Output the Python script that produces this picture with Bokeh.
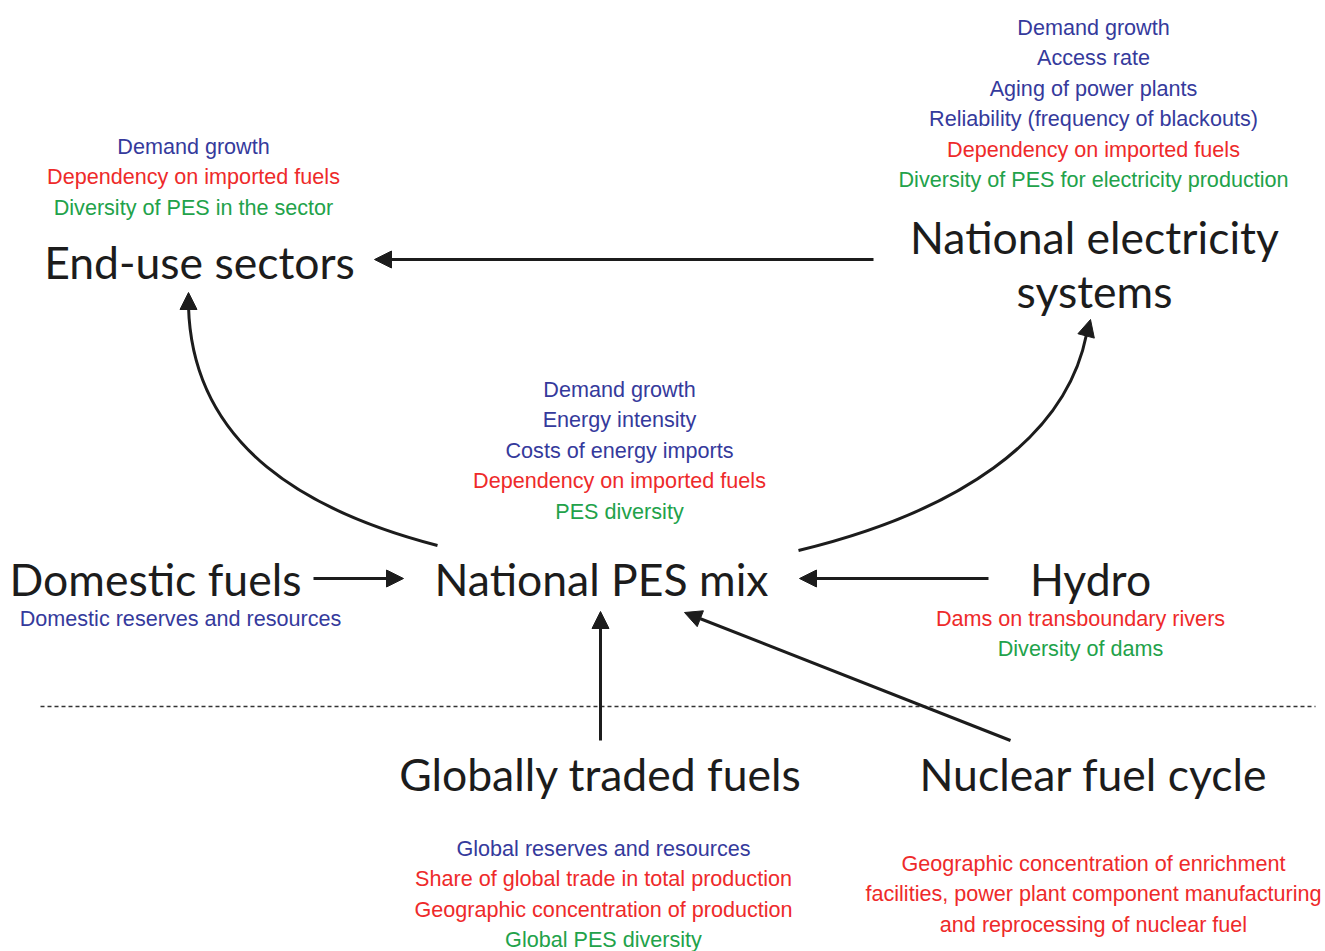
from bokeh.plotting import figure
from bokeh.models import Range1d, Arrow, NormalHead, ColumnDataSource
from bokeh.core.properties import value
from bokeh.embed import file_html
from bokeh.resources import INLINE

BLUE = "#353a9c"
RED = "#ee2a2a"
GREEN = "#22a24a"
DARK = "#1c1c1c"

# ---- node titles ----
titles = ["End-use sectors", "National electricity", "systems", "National PES mix",
          "Domestic fuels", "Hydro", "Globally traded fuels", "Nuclear fuel cycle"]
title_x = [199, 1094, 1094, 601, 155, 1090, 600, 1093]
title_y = [261, 236, 290, 578, 578, 578, 773, 773]

# ---- indicator blocks ----
enduse_lines = ["Demand growth", "Dependency on imported fuels", "Diversity of PES in the sector"]
enduse_colors = [BLUE, RED, GREEN]

elec_lines = ["Demand growth", "Access rate", "Aging of power plants",
              "Reliability (frequency of blackouts)", "Dependency on imported fuels",
              "Diversity of PES for electricity production"]
elec_colors = [BLUE, BLUE, BLUE, BLUE, RED, GREEN]

pes_lines = ["Demand growth", "Energy intensity", "Costs of energy imports",
             "Dependency on imported fuels", "PES diversity"]
pes_colors = [BLUE, BLUE, BLUE, RED, GREEN]

domestic_lines = ["Domestic reserves and resources"]
domestic_colors = [BLUE]

hydro_lines = ["Dams on transboundary rivers", "Diversity of dams"]
hydro_colors = [RED, GREEN]

global_lines = ["Global reserves and resources", "Share of global trade in total production",
                "Geographic concentration of production", "Global PES diversity"]
global_colors = [BLUE, RED, RED, GREEN]

nuclear_lines = ["Geographic concentration of enrichment",
                 "facilities, power plant component manufacturing",
                 "and reprocessing of nuclear fuel"]
nuclear_colors = [RED, RED, RED]

# block anchors: (center x, first line y)
blocks = [
    (enduse_lines, enduse_colors, 193, 146),
    (elec_lines, elec_colors, 1093, 27),
    (pes_lines, pes_colors, 619, 389),
    (domestic_lines, domestic_colors, 180, 618),
    (hydro_lines, hydro_colors, 1080, 618),
    (global_lines, global_colors, 603, 848),
    (nuclear_lines, nuclear_colors, 1093, 863),
]
LINE_STEP = 30.4

# ---- straight arrows (start -> end) ----
arrows_x0 = [873, 313, 988, 600, 1010]
arrows_y0 = [259, 578, 578, 740, 740]
arrows_x1 = [374, 403, 799, 600, 684]
arrows_y1 = [259, 578, 578, 611, 612]

# ---- curved arrows (cubic bezier) ----
curve_x0 = [437, 798]
curve_y0 = [545, 550]
curve_cx0 = [310, 955]
curve_cy0 = [512, 512]
curve_cx1 = [192, 1065]
curve_cy1 = [448, 440]
curve_x1 = [188, 1086]
curve_y1 = [306, 334]
tip_x = [188, 1090]
tip_y = [292, 319]

W, H = 1325, 951
p = figure(width=W, height=H, x_range=Range1d(0, W), y_range=Range1d(H, 0),
           toolbar_location=None, output_backend="svg", min_border=0,
           x_axis_type=None, y_axis_type=None)
p.grid.visible = False
p.outline_line_color = None
p.background_fill_color = "white"
p.border_fill_color = "white"

# dotted separator
p.line(x=[40, 1315], y=[706, 706], line_color="#333333", line_width=1.6, line_dash="4 3")

# straight arrows
for xs, ys, xe, ye in zip(arrows_x0, arrows_y0, arrows_x1, arrows_y1):
    p.add_layout(Arrow(end=NormalHead(size=17, fill_color=DARK, line_color=DARK),
                       x_start=xs, y_start=ys, x_end=xe, y_end=ye,
                       line_color=DARK, line_width=3))

# curves
p.bezier(x0=curve_x0, y0=curve_y0, x1=curve_x1, y1=curve_y1,
         cx0=curve_cx0, cy0=curve_cy0, cx1=curve_cx1, cy1=curve_cy1,
         line_color=DARK, line_width=3)
for xs, ys, xe, ye in zip(curve_x1, curve_y1, tip_x, tip_y):
    p.add_layout(Arrow(end=NormalHead(size=17, fill_color=DARK, line_color=DARK),
                       x_start=xs, y_start=ys, x_end=xe, y_end=ye,
                       line_color=DARK, line_width=3))

# titles
p.text(x=title_x, y=title_y, text=titles, text_font=value("Lato"), text_font_size="44.5px",
       text_color=DARK, text_align="center", text_baseline="middle")

# indicator text
xs, ys, ts, cs = [], [], [], []
for lines, colors, cx, y0 in blocks:
    for i, (t, c) in enumerate(zip(lines, colors)):
        xs.append(cx)
        ys.append(y0 + i * LINE_STEP)
        ts.append(t)
        cs.append(c)
src = ColumnDataSource(dict(x=xs, y=ys, text=ts, color=cs))
p.text(x="x", y="y", text="text", text_color="color", source=src,
       text_font=value("Liberation Sans"), text_font_size="21.6px",
       text_align="center", text_baseline="middle")

open("out.html", "w").write(file_html(p, INLINE))
